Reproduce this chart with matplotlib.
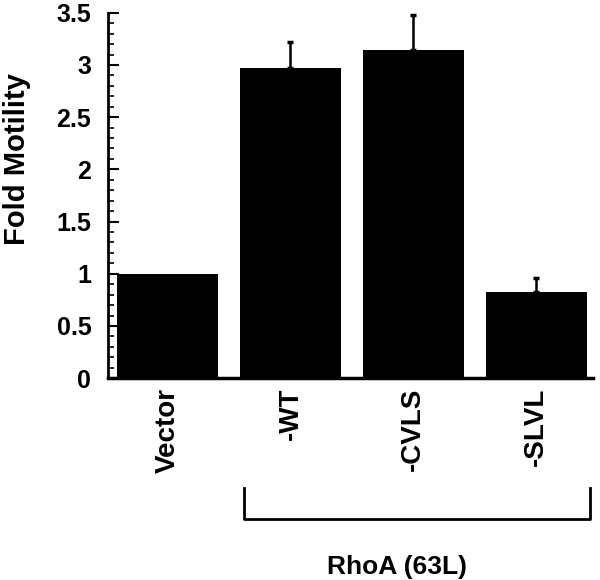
import matplotlib
matplotlib.use('Agg')
import matplotlib.pyplot as plt
from matplotlib.ticker import MultipleLocator

plt.rcParams['font.family'] = ['Liberation Sans', 'DejaVu Sans']
plt.rcParams['font.weight'] = 'bold'

groups = ['Vector', '-WT', '-CVLS', '-SLVL']
motility = [1.0, 2.97, 3.14, 0.83]
err = [0.0, 0.25, 0.34, 0.13]
bracket_label = 'RhoA (63L)'

fig = plt.figure(figsize=(6, 5.8), dpi=100)
ax = fig.add_axes([0.18, 0.348, 0.808, 0.63])

x = list(range(len(groups)))
ax.bar(x, motility, width=0.82, color='black')
# only upper error bars
ax.errorbar(x[1:], motility[1:], yerr=[[0] * 3, err[1:]], fmt='none',
            ecolor='black', elinewidth=1.8, capsize=2.5, capthick=2.5)

ax.set_xlim(-0.484, 3.46)
ax.set_ylim(0, 3.5)
ax.set_yticks([0, 0.5, 1, 1.5, 2, 2.5, 3, 3.5])
ax.set_yticklabels(['0', '0.5', '1', '1.5', '2', '2.5', '3', '3.5'])
ax.yaxis.set_minor_locator(MultipleLocator(0.1))
ax.tick_params(axis='y', which='major', direction='in', length=8, width=1.5,
               labelsize=18, pad=12)
ax.tick_params(axis='y', which='minor', direction='in', length=4, width=1.2)

ax.set_xticks(x)
ax.set_xticklabels(groups, rotation=90, fontsize=20, fontweight='bold')
ax.tick_params(axis='x', length=0, pad=7)

for s in ['top', 'right']:
    ax.spines[s].set_visible(False)
ax.spines['left'].set_linewidth(2)
ax.spines['bottom'].set_linewidth(2.5)

ax.set_ylabel('Fold Motility', fontsize=21, fontweight='bold')
ax.yaxis.set_label_coords(-0.158, 0.6)

# bracket under the RhoA group
tr = ax.get_xaxis_transform()
yb_top, yb_bot = -0.301, -0.386
ax.plot([0.62, 0.62, 3.435, 3.435], [yb_top, yb_bot, yb_bot, yb_top],
        color='black', lw=2, transform=tr, clip_on=False)
ax.text(1.87, -0.517, bracket_label, transform=tr, ha='center', va='center',
        fontsize=19, fontweight='bold')

fig.savefig('out.png', dpi=100)
